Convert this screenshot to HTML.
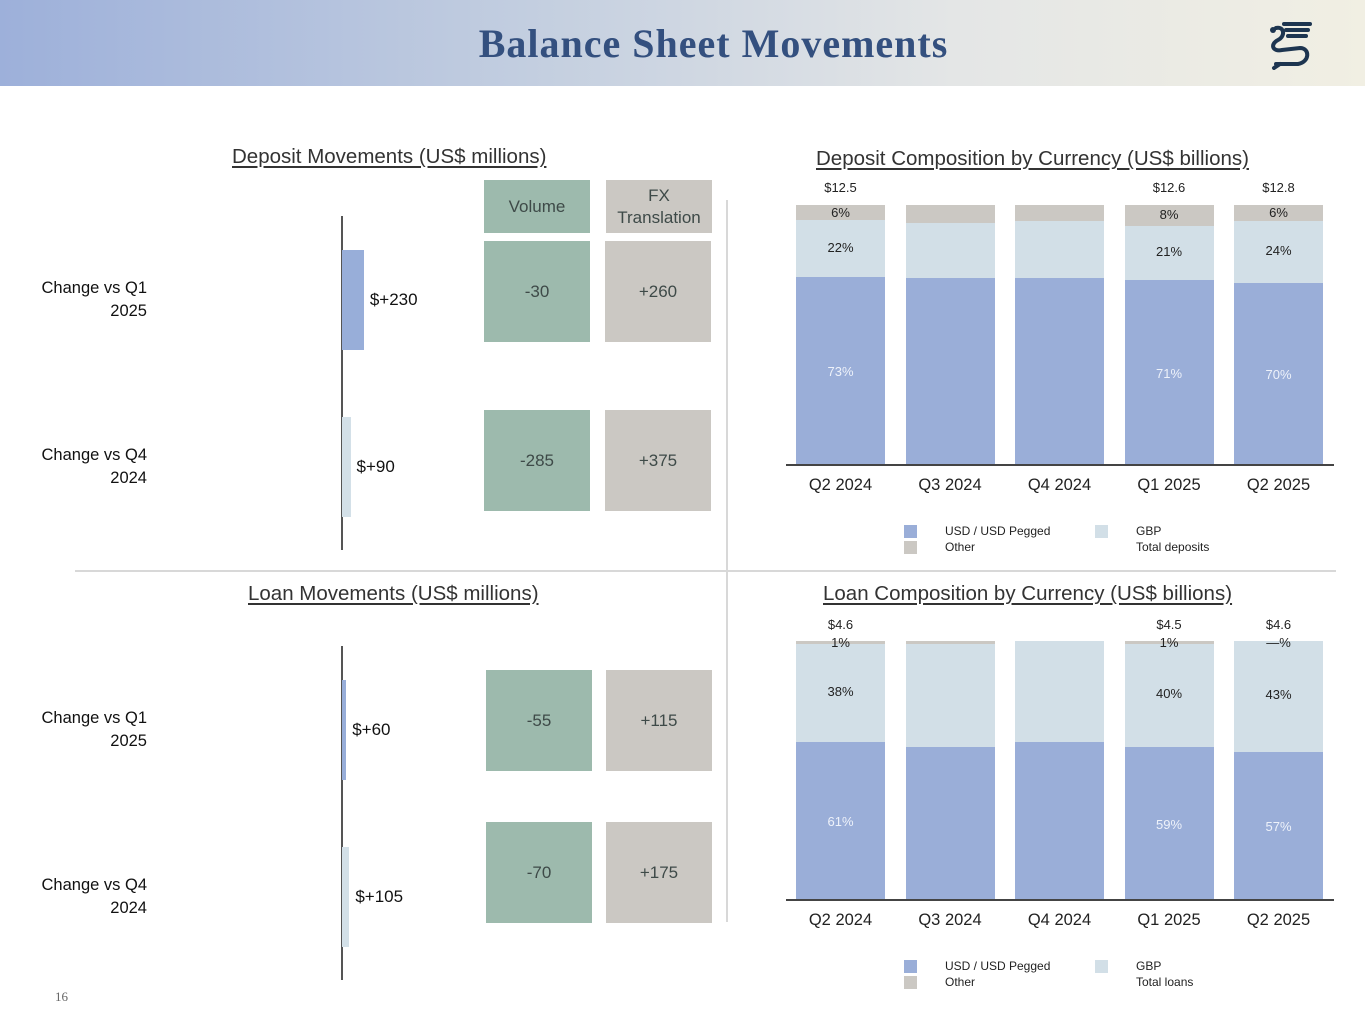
<!DOCTYPE html>
<html><head><meta charset="utf-8">
<style>
html,body{margin:0;padding:0;width:1365px;height:1024px;overflow:hidden;background:#fff;font-family:"Liberation Sans",sans-serif;}
#root{position:relative;width:1365px;height:1024px;}
.abs{position:absolute;}
.hdr{left:0;top:0;width:1365px;height:86px;background:linear-gradient(90deg,#9db0da 0%,#c4cfe0 40%,#e4e6e6 70%,#f1efe3 100%);}
.title{left:31px;width:1365px;top:20px;text-align:center;font-family:"Liberation Serif",serif;font-weight:bold;font-size:40px;letter-spacing:1px;color:#34507f;}
.sec{font-size:20.5px;color:#333;text-decoration:underline;text-underline-offset:3px;white-space:nowrap;}
.rowlab{font-size:16.5px;color:#111;text-align:right;width:120px;line-height:23px;}
.box{display:flex;align-items:center;justify-content:center;text-align:center;font-size:17px;color:#3e4a48;}
.g{background:#9dbaad;}
.c{background:#cbc8c3;}
.val{font-size:17px;color:#111;}
.leg{font-size:12px;color:#222;}
.sw{width:13px;height:13px;}
</style></head>
<body>
<div id="root">
<div class="abs hdr"></div>
<div class="abs title">Balance Sheet Movements</div>
<svg class="abs" style="left:1262px;top:18px" width="56" height="52" viewBox="0 0 56 52">
<g fill="none" stroke="#1d3550" stroke-width="4" stroke-linecap="round">
<path d="M22 6 L48 6 M24 12 L46 12 M26 18 L44 18"/>
<path d="M14 10 C22 8 24 18 16 22 C8 26 10 34 20 32 L38 30 C48 30 48 44 36 46 L14 46"/>
<path d="M18 46 L12 50"/>
</g><circle cx="11" cy="12" r="3" fill="#1d3550"/></svg>

<div class="abs sec" style="left:232px;top:145px">Deposit Movements (US$ millions)</div>
<div class="abs sec" style="left:816px;top:147px">Deposit Composition by Currency (US$ billions)</div>
<div class="abs sec" style="left:248px;top:582px">Loan Movements (US$ millions)</div>
<div class="abs sec" style="left:823px;top:582px">Loan Composition by Currency (US$ billions)</div>

<div class="abs" style="left:726px;top:200px;width:2px;height:722px;background:#d8d8d8"></div>
<div class="abs" style="left:75px;top:570px;width:1261px;height:2px;background:#d8d8d8"></div>

<div class="abs box g" style="left:484px;top:180px;width:106px;height:53px">Volume</div>
<div class="abs box c" style="left:606px;top:180px;width:106px;height:53px;line-height:22px">FX<br>Translation</div>

<div id="left"></div>
<div id="right"></div>

<div class="abs" style="left:55px;top:989px;font-family:'Liberation Serif',serif;font-size:13px;color:#666">16</div>
</div>
<script>
// Movement data
const depRows = ["Change vs Q1 2025","Change vs Q4 2024"];
const depTotals = [230, 90];
const depVolume = [-30, -285];
const depFx = [260, 375];
const loanRows = ["Change vs Q1 2025","Change vs Q4 2024"];
const loanTotals = [60, 105];
const loanVolume = [-55, -70];
const loanFx = [115, 175];

// Composition data
const quarters = ["Q2 2024","Q3 2024","Q4 2024","Q1 2025","Q2 2025"];
const depUsd = [73, 72, 72, 71, 70];
const depGbp = [22, 21, 22, 21, 24];
const depOther = [6, 7, 6, 8, 6];
const depTotalLabels = ["$12.5","","","$12.6","$12.8"];
const depShow = [true,false,false,true,true];
const loanUsd = [61, 59, 61, 59, 57];
const loanGbp = [38, 40, 39, 40, 43];
const loanOther = [1, 1, 0, 1, 0];
const loanTotalLabels = ["$4.6","","","$4.5","$4.6"];
const loanOtherLabels = ["1%","","","1%","—%"];
const loanShow = [true,false,false,true,true];

const root = document.getElementById('root');
function div(cls, css, txt){
  const d=document.createElement('div'); d.className='abs '+(cls||''); d.style.cssText=css; if(txt!==undefined) d.innerHTML=txt; root.appendChild(d); return d;
}

function movements(rows, totals, vol, fx, axisTop, rowTops, boxTops, boxX, scale, prefix){
  const ax=div('', `left:341px;top:${axisTop}px;width:1.5px;height:334px;background:#555`);
  
  
  rows.forEach((r,i)=>{
    const y=rowTops[i];
    const lab=div('rowlab', `left:27px;top:${y+27}px`, r.replace(' 20','<br>20'));
    
    
    const w=Math.max(3, totals[i]*scale);
    const bar=div('', `left:342px;top:${y}px;width:${w}px;height:100px;background:${i==0?'#98aed9':'#d3e0e8'}`);
    
    
    const v=div('val', `left:${342+w+6}px;top:${y+40}px`, '$+'+totals[i]);
    
    
    const b1=div('box g', `left:${boxX[0]}px;top:${boxTops[i]}px;width:106px;height:101px`, (vol[i]>0?'+':'')+vol[i]);
    
    
    const b2=div('box c', `left:${boxX[1]}px;top:${boxTops[i]}px;width:106px;height:101px`, (fx[i]>0?'+':'')+fx[i]);
    
    
  });
}
movements(depRows, depTotals, depVolume, depFx, 216, [250,417], [241,410], [484,605], 0.095, 'deposit');
movements(loanRows, loanTotals, loanVolume, loanFx, 646, [680,847], [670,822], [486,606], 0.07, 'loan');

function stack(prefix, usd, gbp, other, totals, show, base, h, otherLabels, legendY, totalName){
  const x0=796, step=109.5, bw=89;
  const yv = p => h*p/100;
  const axis=div('', `left:786px;top:${base}px;width:548px;height:1.5px;background:#444`);
  
  
  quarters.forEach((q,i)=>{
    const x=x0+i*step;
    const sum=usd[i]+gbp[i]+other[i];
    const hu=yv(usd[i]/sum*100), hg=yv(gbp[i]/sum*100), ho=h-hu-hg;
    const bu=div('', `left:${x}px;top:${base-hu}px;width:${bw}px;height:${hu}px;background:#9aaed8`);
    
    
    const bg=div('', `left:${x}px;top:${base-hu-hg}px;width:${bw}px;height:${hg}px;background:#d2dfe7`);
    
    
    const bo=div('', `left:${x}px;top:${base-h}px;width:${bw}px;height:${ho}px;background:#cbc8c3`);
    
    
    const tl=div('', `left:${x-10}px;width:${bw+20}px;text-align:center;top:${base+12}px;font-size:16.5px;color:#222`, q);
    
    
    if(show[i]){
      const c=`position:absolute;left:${x}px;width:${bw}px;text-align:center;font-size:13px;`;
      const a=div('', c+`top:${base-hu/2-6}px;color:#eef2fa`, usd[i]+'%');
      
      
      const b=div('', c+`top:${base-hu-hg/2-9}px;color:#222`, gbp[i]+'%');
      
      
      const ol = otherLabels ? otherLabels[i] : other[i]+'%';
      const oy = otherLabels ? base-h-6 : base-h+ho/2-8;
      const o=div('', c+`top:${oy}px;color:#222`, ol);
      
      
      const t=div('', c+`top:${otherLabels? base-h-24 : base-h-25}px;color:#222`, totals[i]);
      
      
    }
  });
  const items=[['#9aaed8','USD / USD Pegged',904,0],['#d2dfe7','GBP',1095,0],['#cbc8c3','Other',904,16],[null,totalName,1095,16]];
  items.forEach(it=>{
    if(it[0]){
      const s=div('sw', `left:${it[2]}px;top:${legendY+it[3]+1}px;background:${it[0]}`);
      
      
    }
    const l=div('leg', `left:${it[2]+41}px;top:${legendY+it[3]}px`, it[1]);
    
    
  });
}
stack('deposit', depUsd, depGbp, depOther, depTotalLabels, depShow, 464, 259, null, 524, 'Total deposits');
stack('loan', loanUsd, loanGbp, loanOther, loanTotalLabels, loanShow, 899, 258, loanOtherLabels, 959, 'Total loans');
</script>
</body></html>
